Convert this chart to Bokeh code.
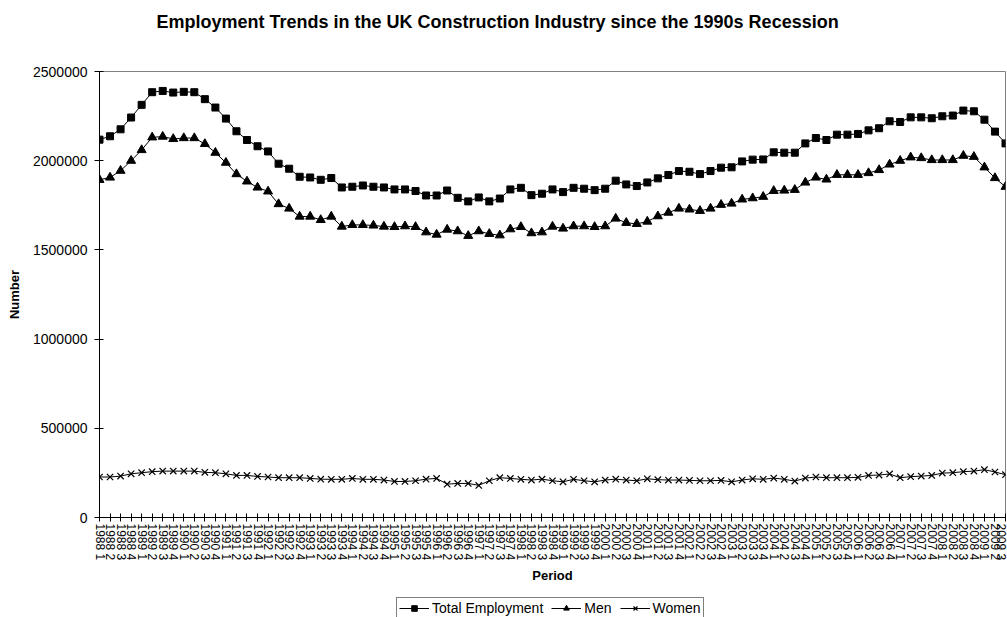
import math
from bokeh.plotting import figure
from bokeh.layouts import column
from bokeh.models import FixedTicker, Range1d, Legend, LegendItem, BasicTickFormatter
from bokeh.embed import file_html
from bokeh.resources import INLINE

years = list(range(1988, 2010))
quarters = [1, 2, 3, 4]
periods = [f"{y} {q}" for y in years for q in quarters][:87]  # 1988 1 .. 2009 3

total = [
    2118000, 2137000, 2176000, 2242000,
    2313000, 2384000, 2391000, 2382000,
    2386000, 2384000, 2345000, 2298000,
    2236000, 2165000, 2116000, 2081000,
    2052000, 1983000, 1955000, 1910000,
    1906000, 1893000, 1903000, 1850000,
    1854000, 1861000, 1854000, 1850000,
    1839000, 1839000, 1830000, 1805000,
    1805000, 1833000, 1792000, 1772000,
    1794000, 1772000, 1788000, 1839000,
    1848000, 1807000, 1815000, 1839000,
    1824000, 1848000, 1843000, 1835000,
    1843000, 1888000, 1867000, 1858000,
    1878000, 1901000, 1920000, 1942000,
    1938000, 1925000, 1942000, 1961000,
    1963000, 1996000, 2006000, 2007000,
    2047000, 2045000, 2045000, 2097000,
    2127000, 2116000, 2146000, 2146000,
    2150000, 2170000, 2182000, 2221000,
    2217000, 2243000, 2243000, 2238000,
    2249000, 2253000, 2281000, 2277000,
    2230000, 2163000, 2097000,
]

men = [
    1893000, 1906000, 1944000, 2000000,
    2060000, 2131000, 2135000, 2122000,
    2127000, 2127000, 2094000, 2045000,
    1989000, 1925000, 1884000, 1850000,
    1828000, 1757000, 1732000, 1687000,
    1687000, 1668000, 1687000, 1631000,
    1640000, 1640000, 1637000, 1631000,
    1629000, 1633000, 1629000, 1599000,
    1586000, 1614000, 1605000, 1579000,
    1605000, 1590000, 1582000, 1616000,
    1629000, 1594000, 1599000, 1631000,
    1620000, 1633000, 1633000, 1629000,
    1633000, 1676000, 1652000, 1646000,
    1659000, 1689000, 1709000, 1732000,
    1727000, 1719000, 1732000, 1753000,
    1760000, 1783000, 1790000, 1798000,
    1831000, 1833000, 1837000, 1878000,
    1906000, 1895000, 1921000, 1921000,
    1921000, 1931000, 1948000, 1979000,
    2000000, 2019000, 2015000, 2004000,
    2004000, 2004000, 2028000, 2022000,
    1963000, 1903000, 1854000,
]

women = [
    227000, 227000, 232000, 245000,
    251000, 257000, 260000, 260000,
    260000, 260000, 253000, 251000,
    245000, 236000, 236000, 230000,
    227000, 223000, 223000, 223000,
    219000, 215000, 214000, 214000,
    219000, 214000, 214000, 210000,
    202000, 202000, 206000, 215000,
    219000, 187000, 191000, 191000,
    180000, 206000, 223000, 219000,
    214000, 210000, 215000, 206000,
    200000, 214000, 206000, 200000,
    210000, 215000, 210000, 206000,
    217000, 212000, 210000, 210000,
    208000, 206000, 206000, 208000,
    200000, 210000, 217000, 214000,
    221000, 214000, 204000, 221000,
    227000, 223000, 223000, 223000,
    225000, 236000, 238000, 244000,
    223000, 229000, 232000, 236000,
    249000, 251000, 257000, 260000,
    268000, 255000, 240000,
]

y_ticks = [0, 500000, 1000000, 1500000, 2000000, 2500000]
series_names = ["Total Employment", "Men", "Women"]
series_values = [total, men, women]
series_markers = ["square", "triangle", "x"]
marker_sizes = [7, 9, 9]

TITLE = "Employment Trends in the UK Construction Industry since the 1990s Recession"
FONT = "Liberation Sans"
xs = list(range(len(periods)))


def strip(height):
    f = figure(width=1007, height=height, output_backend="svg", toolbar_location=None,
               x_range=Range1d(0, 1), y_range=Range1d(0, 1),
               min_border=0, outline_line_color=None,
               background_fill_color="white", border_fill_color="white")
    f.xaxis.visible = False
    f.yaxis.visible = False
    f.xgrid.visible = False
    f.ygrid.visible = False
    return f


def draw(fig, vals, mk, sz):
    lr = fig.line(xs, vals, line_color="black", line_width=1)
    if mk == "x":
        sr = fig.scatter(xs, vals, marker=mk, size=sz, line_color="black", line_width=1.2)
    else:
        sr = fig.scatter(xs, vals, marker=mk, size=sz, fill_color="black", line_color="black")
    return lr, sr


# ---- title strip ----
tf = strip(45)
tf.title.text = TITLE
tf.title.align = "left"
tf.title.offset = 57
tf.title.text_font = FONT
tf.title.text_font_size = "18px"
tf.title.text_font_style = "bold"
tf.title.text_color = "black"
tf.title.standoff = 18

# ---- main chart ----
p = figure(width=1007, height=552, output_backend="svg", toolbar_location=None,
           x_range=Range1d(0, len(periods) - 1), y_range=Range1d(0, 2500000),
           min_border_left=99, min_border_right=2, min_border_top=26, min_border_bottom=80,
           background_fill_color="white", border_fill_color="white")
p.title.visible = False

p.xgrid.visible = False
p.ygrid.visible = False
p.outline_line_color = "#808080"
p.outline_line_width = 1

xa = p.xaxis[0]
xa.ticker = FixedTicker(ticks=xs)
xa.major_label_overrides = {i: lab for i, lab in enumerate(periods)}
xa.major_label_orientation = -math.pi / 2
xa.major_label_text_font = FONT
xa.major_label_text_font_size = "12px"
xa.major_label_text_color = "black"
xa.major_label_standoff = 2
xa.major_tick_in = 4
xa.major_tick_out = 4
xa.minor_tick_line_color = None
xa.axis_line_color = "black"
xa.major_tick_line_color = "black"
xa.axis_label = "Period"
xa.axis_label_text_font = FONT
xa.axis_label_text_font_size = "13px"
xa.axis_label_text_font_style = "bold"
xa.axis_label_text_color = "black"
xa.axis_label_standoff = 5

ya = p.yaxis[0]
ya.ticker = FixedTicker(ticks=y_ticks)
ya.formatter = BasicTickFormatter(use_scientific=False)
ya.major_label_text_font = FONT
ya.major_label_text_font_size = "14px"
ya.major_label_text_color = "black"
ya.major_label_standoff = 7
ya.major_tick_in = 4
ya.major_tick_out = 5
ya.minor_tick_line_color = None
ya.axis_line_color = "black"
ya.major_tick_line_color = "black"
ya.axis_label = "Number"
ya.axis_label_text_font = FONT
ya.axis_label_text_font_size = "13px"
ya.axis_label_text_font_style = "bold"
ya.axis_label_text_color = "black"
ya.axis_label_standoff = 8

for vals, mk, sz in zip(series_values, series_markers, marker_sizes):
    draw(p, vals, mk, sz)

# ---- legend strip (same series drawn out of its view, used only for the key) ----
lg = strip(20)
items = []
for name, vals, mk, sz in zip(series_names, series_values, series_markers, marker_sizes):
    lr, sr = draw(lg, vals, mk, sz)
    items.append(LegendItem(label=name, renderers=[lr, sr]))

legend = Legend(items=items, orientation="horizontal", location=(297, -2))
legend.label_text_font = FONT
legend.label_text_font_size = "14px"
legend.label_text_color = "black"
legend.label_height = 14
legend.glyph_width = 30
legend.glyph_height = 14
legend.label_standoff = 3
legend.spacing = 8
legend.padding = 2
legend.margin = 0
legend.border_line_color = "black"
legend.border_line_width = 1
legend.background_fill_color = "white"
legend.background_fill_alpha = 1
lg.add_layout(legend, "center")

layout = column(tf, p, lg, spacing=0)
open("out.html", "w").write(file_html(layout, INLINE))
